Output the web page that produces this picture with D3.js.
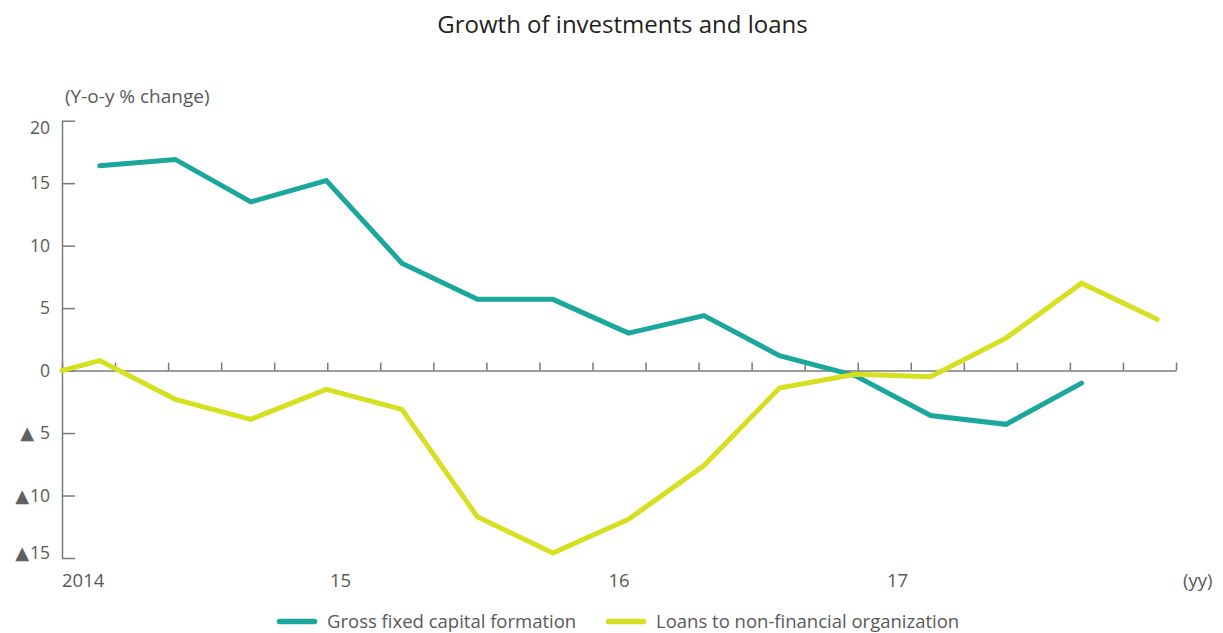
<html>
	<head>
		<style>
			body { margin: 0; background: #fff; }
			svg text { font-family: "Open Sans", "Noto Sans", sans-serif; fill: #595959; }
			.title { fill: #231f20; font-size: 24px; }
			.ylab { font-size: 17.5px; }
			.ytitle { font-size: 19px; }
			.xlab { font-size: 18.5px; }
			.tri { font-family: "DejaVu Sans", sans-serif; font-size: 18px; fill: #5f6062; }
			.legend text { font-size: 18.5px; }
			.axis path, .axis line { stroke: #7a7a7a; stroke-width: 1.5; }
			.series { fill: none; stroke-width: 5; stroke-linecap: round; stroke-linejoin: miter; }
		</style>
		<script src="https://d3js.org/d3.v7.min.js"></script>
	</head>
	<body>
		<svg width="1223" height="633"></svg>
		<script>
			// periods are quarters counted from the first plotted point
			const gfcfPeriods = [0, 1, 2, 3, 4, 5, 6, 7, 8, 9, 10, 11, 12, 13];
			const gfcfValues = [16.4, 16.9, 13.5, 15.2, 8.6, 5.7, 5.7, 3.0, 4.4, 1.2, -0.4, -3.6, -4.3, -1.0];

			const loansPeriods = [-0.5, 0, 1, 2, 3, 4, 5, 6, 7, 8, 9, 10, 11, 12, 13, 14];
			const loansValues = [0.0, 0.8, -2.3, -3.9, -1.5, -3.1, -11.7, -14.6, -11.9, -7.6, -1.4, -0.3, -0.5, 2.6, 7.0, 4.1];

			const yTicks = [20, 15, 10, 5, 0, -5, -10, -15];
			const yearValues = [2014, 2015, 2016, 2017];
			const yearLabels = ["2014", "15", "16", "17"];

			const seriesNames = ["Gross fixed capital formation", "Loans to non-financial organization"];
			const seriesColors = ["#1ba89c", "#d6df20"];

			const plotLeft = 62, plotRight = 1176, plotTop = 120.7, plotBottom = 558;

			var svg = d3.select("svg");

			var ys = d3.scaleLinear().domain([-15, 20]).range([plotBottom, plotTop]);
			var xs = d3.scaleLinear().domain([-0.5, 14.25]).range([plotLeft, plotRight]);
			var yearScale = d3.scaleLinear().domain([2014, 2018]).range([plotLeft, plotRight]);

			svg.append("text").attr("class", "title")
				.attr("x", 622.5).attr("y", 33)
				.attr("text-anchor", "middle")
				.text("Growth of investments and loans");

			svg.append("text").attr("class", "ytitle")
				.attr("x", 65).attr("y", 103)
				.text("(Y-o-y % change)");

			// y axis, ticks point right
			svg.append("g").attr("class", "axis")
				.attr("transform", "translate(" + plotLeft + ",0)")
				.call(d3.axisRight(ys).tickValues(yTicks).tickSize(13).tickSizeOuter(0).tickFormat(""));

			// negative values are written with a triangle, as in the source
			var ylabels = svg.append("g").selectAll("text")
				.data(yTicks)
				.enter().append("text")
				.attr("class", "ylab")
				.attr("x", 50)
				.attr("y", d => Math.min(Math.max(ys(d), plotTop + 7), plotBottom - 5))
				.attr("dy", "0.36em")
				.attr("text-anchor", "end");

			ylabels.filter(d => d < 0).append("tspan")
				.attr("class", "tri")
				.text("▲");
			ylabels.append("tspan")
				.attr("dx", d => d < 0 && d > -10 ? 6 : (d < 0 ? 1 : 0))
				.text(d => Math.abs(d));

			// x axis along zero, ticks point up
			var tickVals = d3.range(22).map(i => 2014 + i * 4 / 21);
			svg.append("g").attr("class", "axis")
				.attr("transform", "translate(0," + ys(0) + ")")
				.call(d3.axisTop(yearScale).tickValues(tickVals).tickSize(8).tickSizeOuter(0).tickFormat(""));

			svg.append("g").selectAll("text")
				.data(yearValues)
				.enter().append("text")
				.attr("class", "xlab")
				.attr("x", d => yearScale(d))
				.attr("y", 587)
				.attr("text-anchor", (d, i) => i == 0 ? "start" : "middle")
				.text((d, i) => yearLabels[i]);

			svg.append("text").attr("class", "xlab")
				.attr("x", plotRight + 7).attr("y", 587)
				.text("(yy)");

			const line = d3.line()
				.x(d => xs(d.p))
				.y(d => ys(d.v));

			var data = [
				gfcfPeriods.map((p, i) => ({ p: p, v: gfcfValues[i] })),
				loansPeriods.map((p, i) => ({ p: p, v: loansValues[i] }))
			];

			svg.append("g").selectAll("path")
				.data(data)
				.enter().append("path")
				.attr("class", "series")
				.attr("stroke", (d, i) => seriesColors[i])
				.attr("d", d => line(d));

			// legend
			const legendX = [277, 606];
			var legend = svg.append("g").attr("class", "legend")
				.selectAll("g")
				.data(seriesNames)
				.enter().append("g")
				.attr("transform", (d, i) => "translate(" + legendX[i] + ",621.5)");

			legend.append("line")
				.attr("x1", 2.5).attr("x2", 37.5)
				.attr("stroke", (d, i) => seriesColors[i])
				.attr("stroke-width", 5.5)
				.attr("stroke-linecap", "round");

			legend.append("text")
				.attr("x", 50).attr("y", 6.5)
				.text(d => d);
		</script>
	</body>
</html>
